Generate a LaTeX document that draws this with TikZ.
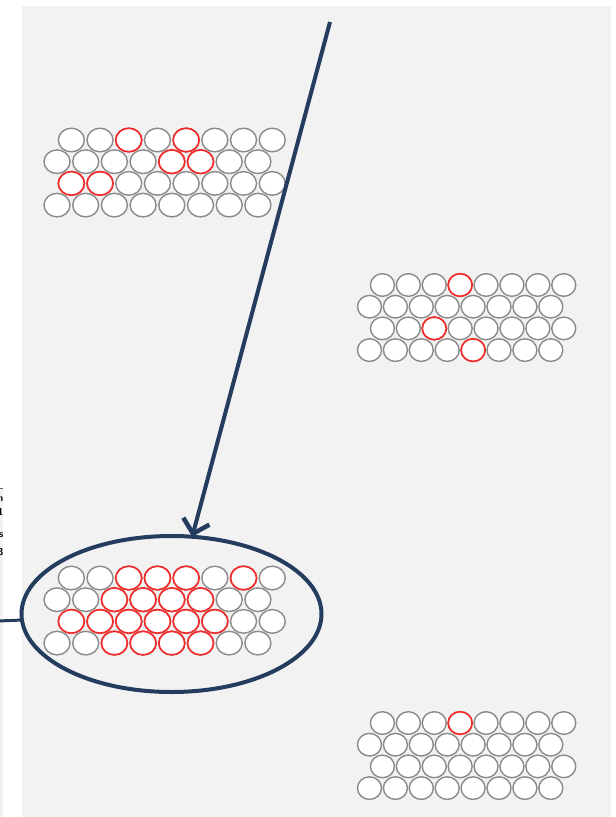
\documentclass[tikz,border=0pt]{standalone}
\usetikzlibrary{shapes.geometric,arrows.meta}
\definecolor{panelgrey}{HTML}{F2F2F2}
\definecolor{navy}{HTML}{243C5E}
\definecolor{cellgrey}{HTML}{8A8A8A}
\definecolor{cellred}{HTML}{F22B2B}
\tikzset{
  cell/.style={draw=cellgrey, fill=white, line width=1.4pt},
  hotcell/.style={draw=cellred, fill=white, line width=1.7pt},
  link/.style={draw=navy, line width=4pt},
  cutlabel/.style={anchor=east, inner sep=0, font=\sffamily\bfseries\fontsize{10}{12}\selectfont},
}
% a staggered block of 4 rows x 8 cells; #1 x of first cell in row 2, #2 y of row 1,
% #3 horizontal pitch, #4/#5 radii
\newcommand\hexgrid[5]{%
  \foreach \r in {0,...,3}{\foreach \c in {0,...,7}{%
    \path[cell] ({#1+\c*#3+mod(\r+1,2)*#3/2},{#2+\r*21.7}) ellipse[x radius=#4,y radius=#5];}}}
% highlighted cells given as row/column pairs (both counted from 0)
\newcommand\hexred[6]{%
  \foreach \r/\c in {#6}{%
    \path[hotcell] ({#1+\c*#3+mod(\r+1,2)*#3/2},{#2+\r*21.7}) ellipse[x radius=#4,y radius=#5];}}
\begin{document}
\begin{tikzpicture}[x=1pt,y=-1pt]
  \useasboundingbox (0,0) rectangle (616,817);
  \fill[white] (0,0) rectangle (616,817);
  % background panel
  \fill[panelgrey] (22,6) rectangle (611,817);
  % edge of the neighbouring panel with its cut-off labels
  \fill[panelgrey] (0,488) rectangle (3,817);
  \begin{scope}
    \clip (0,484) rectangle (3,570);
    \draw[black!60, line width=0.6pt] (0,488) -- (3,488);
    \node[cutlabel] at (3.5,499) {on};
    \node[cutlabel] at (3.5,512) {11};
    \node[cutlabel] at (3.5,535) {ss};
    \node[cutlabel] at (3.5,552) {s3};
  \end{scope}

  % upper left block
  \hexgrid{57}{140}{28.7}{13}{11.8}
  \hexred{57}{140}{28.7}{13}{11.8}{0/2,0/4,1/4,1/5,2/0,2/1}
  % upper right block
  \hexgrid{369.5}{285}{25.9}{12}{11.3}
  \hexred{369.5}{285}{25.9}{12}{11.3}{0/3,2/2,3/4}
  % lower left block
  \hexgrid{57}{578}{28.7}{13}{11.8}
  \hexred{57}{578}{28.7}{13}{11.8}{0/2,0/3,0/4,0/6,1/2,1/3,1/4,1/5,2/0,2/1,2/2,2/3,2/4,2/5,3/2,3/3,3/4,3/5}
  % lower right block
  \hexgrid{369.5}{723}{25.9}{12}{11.3}
  \hexred{369.5}{723}{25.9}{12}{11.3}{0/3}

  % ring around the lower left block
  \node[ellipse, draw=navy, line width=4pt, minimum width=300pt, minimum height=156pt,
        inner sep=0pt, outer sep=0pt] (focus) at (171.5,614) {};
  \coordinate (src) at (330,22);
  \coordinate (inlet) at (-2,621);
  \draw[link, -{Straight Barb[length=13pt,width=27pt,line width=4.5pt]}] (src) -- (focus);
  \draw[link, line width=3pt] (inlet) -- (focus);
\end{tikzpicture}
\end{document}
